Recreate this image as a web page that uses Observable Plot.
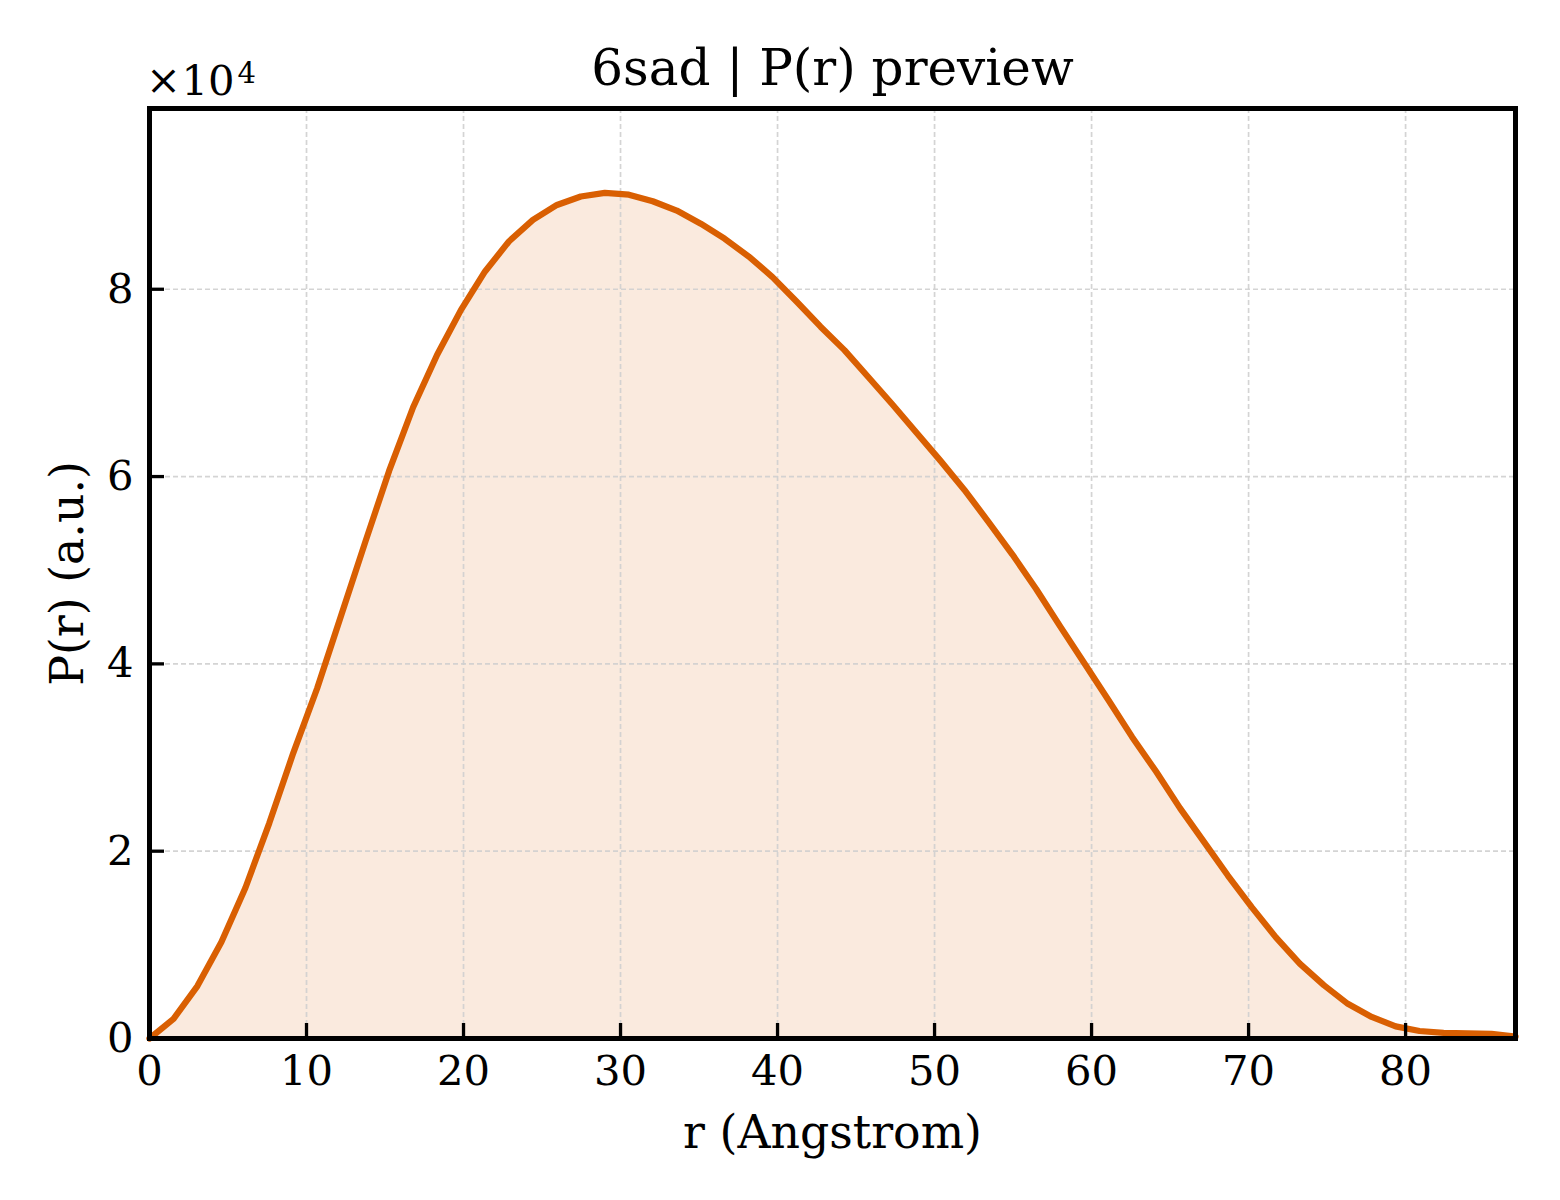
<!DOCTYPE html>
<html>
<head>
<meta charset="utf-8">
<script src="https://cdn.jsdelivr.net/npm/d3@7"></script>
<script src="https://cdn.jsdelivr.net/npm/@observablehq/plot@0.6"></script>
<style>
  body { margin: 0; background: #fff; }
  #chart svg { display: block; }
</style>
</head>
<body>
<div id="chart"></div>
<script>
const title = "6sad | P(r) preview";
const xLabel = "r (Angstrom)";
const yLabel = "P(r) (a.u.)";
const expTimes = "×";
const expBase = "10";
const expPower = "4";

const rValues = [0, 1.53, 3.05, 4.58, 6.11, 7.63, 9.16, 10.68, 12.21, 13.74, 15.26, 16.79, 18.32, 19.84,
  21.37, 22.89, 24.42, 25.95, 27.47, 29.0, 30.53, 32.05, 33.58, 35.11, 36.63, 38.16, 39.68, 41.21,
  42.74, 44.26, 45.79, 47.32, 48.84, 50.37, 51.89, 53.42, 54.95, 56.47, 58.0, 59.53, 61.05, 62.58,
  64.11, 65.63, 67.16, 68.68, 70.21, 71.74, 73.26, 74.79, 76.32, 77.84, 79.37, 80.89, 82.42, 83.95,
  85.47, 87.0];
const prValues = [0, 2100, 5600, 10300, 16100, 23000, 30500, 37400, 45200, 53000, 60600, 67400, 73000, 77800,
  81900, 85100, 87400, 89000, 89900, 90300, 90100, 89400, 88400, 87000, 85400, 83500, 81300, 78700,
  76000, 73500, 70600, 67700, 64700, 61700, 58600, 55200, 51700, 48000, 44000, 40100, 36200, 32200,
  28500, 24600, 21000, 17400, 14000, 10800, 8000, 5700, 3700, 2300, 1300, 800, 600, 550,
  500, 200];

const xTicks = [0, 10, 20, 30, 40, 50, 60, 70, 80];
const yTicks = [0, 20000, 40000, 60000, 80000];

const data = rValues.map((r, i) => ({r, p: prValues[i]}));

const W = 1560, H = 1200, ML = 149, MR = 45, MT = 108, MB = 162;
const plotW = W - ML - MR, plotH = H - MT - MB;
const tickLen = 15;

const lineColor = "#d95f02";
const gridStyle = {stroke: "#cfcfcf", strokeOpacity: 0.9, strokeDasharray: "5,3", strokeWidth: 1.7};

const chart = Plot.plot({
  width: W,
  height: H,
  marginLeft: ML,
  marginRight: MR,
  marginTop: MT,
  marginBottom: MB,
  style: {fontFamily: "'DejaVu Serif', serif", fontSize: "41.7px", color: "#000", background: "#fff"},
  x: {domain: [0, 87]},
  y: {domain: [0, 99300]},
  marks: [
    Plot.areaY(data, {x: "r", y: "p", fill: lineColor, fillOpacity: 0.13}),
    Plot.gridX(xTicks.filter(d => d > 0), gridStyle),
    Plot.gridY(yTicks.filter(d => d > 0), gridStyle),
    Plot.lineY(data, {x: "r", y: "p", stroke: lineColor, strokeWidth: 6.25}),
    Plot.tickX(xTicks, {x: d => d, insetTop: plotH - tickLen, stroke: "#000", strokeWidth: 3.3}),
    Plot.tickY(yTicks, {y: d => d, insetRight: plotW - tickLen, stroke: "#000", strokeWidth: 3.3}),
    Plot.frame({stroke: "#000", strokeWidth: 5}),
    Plot.axisX(xTicks, {tickSize: 0, tickPadding: 17, label: null, fontSize: 41.7}),
    Plot.axisY(yTicks, {tickSize: 0, tickPadding: 16, label: null, fontSize: 41.7, tickFormat: d => String(d / 10000)}),
    Plot.text([title], {frameAnchor: "top", textAnchor: "middle", dy: -40, fontSize: 50, lineAnchor: "middle"}),
    Plot.text([expTimes], {frameAnchor: "top-left", textAnchor: "middle", dx: 14, dy: -28, fontSize: 41.7, lineAnchor: "middle"}),
    Plot.text([expBase], {frameAnchor: "top-left", textAnchor: "start", dx: 32, dy: -26.5, fontSize: 41.7, lineAnchor: "middle"}),
    Plot.text([expPower], {frameAnchor: "top-left", textAnchor: "start", dx: 88, dy: -35, fontSize: 29, lineAnchor: "middle"}),
    Plot.text([xLabel], {frameAnchor: "bottom", textAnchor: "middle", dy: 95, fontSize: 45.8, lineAnchor: "middle"}),
    Plot.text([yLabel], {frameAnchor: "left", textAnchor: "middle", dx: -81, rotate: -90, fontSize: 45.8, lineAnchor: "middle"})
  ]
});
document.getElementById("chart").appendChild(chart);
</script>
</body>
</html>
